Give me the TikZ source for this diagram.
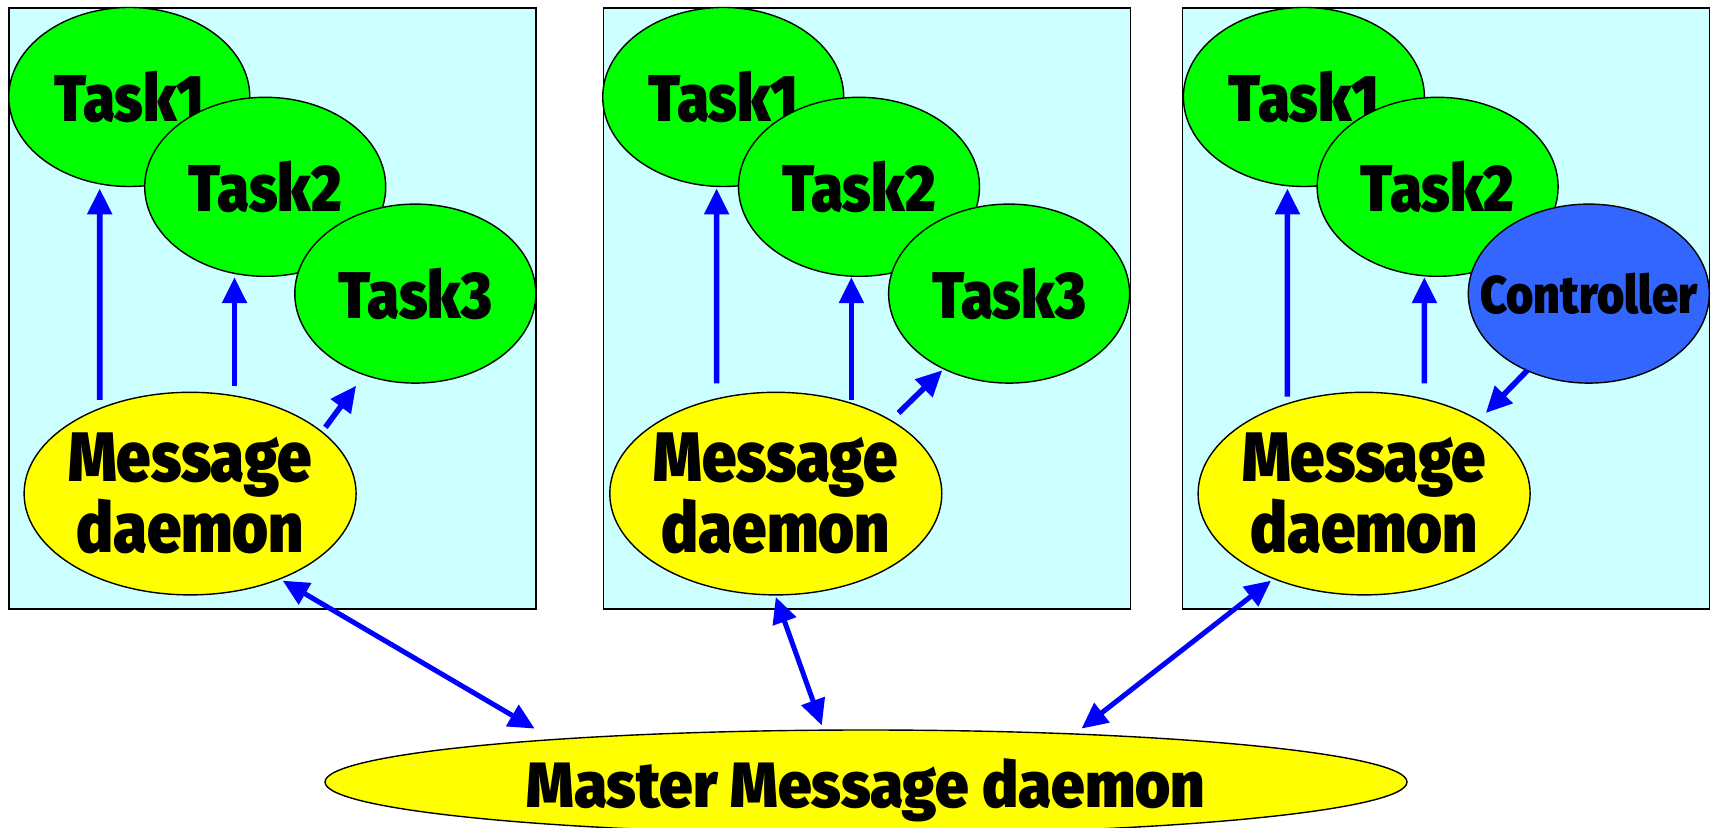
\documentclass[tikz,border=0pt]{standalone}
\usepackage{fontspec}
\setmainfont{Fira Sans}[BoldFont={Fira Sans Black}]
\newfontfamily\narrowfont{Fira Sans Black}[FakeStretch=0.88]
\newfontfamily\masterfont{Fira Sans Black}[FakeStretch=0.94]
\usetikzlibrary{arrows.meta,calc,shapes.geometric}
\definecolor{cyanbg}{HTML}{CCFFFF}
\definecolor{taskgreen}{HTML}{00FF00}
\definecolor{mdyellow}{HTML}{FFFF00}
\definecolor{ctrlblue}{HTML}{3366FF}
\definecolor{arrowblue}{HTML}{0000FF}
\begin{document}
\begin{tikzpicture}[x=0.5pt,y=-0.5pt,
  panel/.style={rectangle,draw=black,line width=0.6pt,fill=cyanbg,minimum width=263.5pt,minimum height=300.5pt,inner sep=0pt},
  blob/.style={ellipse,draw=black,line width=0.7pt,inner sep=-12pt},
  task/.style={blob,fill=taskgreen,minimum width=120.5pt,minimum height=89.5pt,font=\fontsize{33}{36}\narrowfont},
  ctrl/.style={blob,fill=ctrlblue,minimum width=120.5pt,minimum height=89.5pt,font=\fontsize{26.5}{29}\narrowfont},
  md/.style={blob,fill=mdyellow,minimum width=166pt,minimum height=101.3pt,align=center,font=\fontsize{35}{34.5}\narrowfont},
  master/.style={blob,fill=mdyellow,minimum width=541pt,minimum height=52pt,text height=32pt,text depth=7pt,font=\fontsize{32}{34}\masterfont},
  arr/.style={draw=arrowblue,line width=2.8pt,-{Triangle[length=13pt,width=12pt]}},
  dbl/.style={draw=arrowblue,line width=2.5pt,{Triangle[length=13pt,width=12pt]}-{Triangle[length=13pt,width=12pt]}}]
\useasboundingbox (0,0) rectangle (1718,828);
\clip (0,0) rectangle (1718,828);
% panels
\node[panel] (p1) at (272.5,308.5) {};
\node[panel] (p2) at (867,308.5) {};
\node[panel] (p3) at (1446,308.5) {};
% panel 1
\node[task] (a1) at (129.3,97) {Task1};
\node[task] (a2) at (265.2,186.8) {Task2};
\node[task] (a3) at (415.3,293.6) {Task3};
\node[md] (m1) at (190.1,493.6) {Message\\daemon};
% panel 2
\node[task] (b1) at (723.2,97) {Task1};
\node[task] (b2) at (859,186.8) {Task2};
\node[task] (b3) at (1009.1,293.6) {Task3};
\node[md] (m2) at (775.8,493.6) {Message\\daemon};
% panel 3
\node[task] (c1) at (1303.9,97) {Task1};
\node[task] (c2) at (1437.6,186.8) {Task2};
\node[ctrl] (cc) at (1588.8,293.6) {Controller};
\node[md] (m3) at (1364.1,493.6) {Message\\daemon};
% master
\node[master] (mm) at (866,782) {Master Message daemon};
% arrows panel 1
\draw[arr] ($(m1)+(-90.4,-93.6)$) -- ($(a1)+(-29.6,91.5)$);
\draw[arr] ($(m1)+(44.4,-107.9)$) -- ($(a2)+(-30.7,90.4)$);
\draw[arr] ($(m1)+(135.3,-66.3)$) -- ($(a3)+(-59.2,92.1)$);
% arrows panel 2
\draw[arr] ($(m2)+(-59.2,-110.1)$) -- ($(b1)+(-6.6,91.5)$);
\draw[arr] ($(m2)+(75.6,-93.6)$) -- ($(b2)+(-7.6,90.4)$);
\draw[arr] ($(m2)+(122.7,-80.6)$) -- ($(b3)+(-66.8,76.7)$);
% arrows panel 3
\draw[arr] ($(m3)+(-76.7,-97)$) -- ($(c1)+(-16.5,91.5)$);
\draw[arr] ($(m3)+(60.3,-110.1)$) -- ($(c2)+(-13.2,90.4)$);
\draw[arr] ($(cc)+(-61.4,76.7)$) -- ($(m3)+(121.7,-80.6)$);
% to master
\draw[dbl] ($(m1)+(92.6,87.1)$) -- ($(mm)+(-331.3,-53.4)$);
\draw[dbl] ($(m2)+(0,103.4)$) -- ($(mm)+(-44.2,-56.6)$);
\draw[dbl] ($(m3)+(-93.1,87.1)$) -- ($(mm)+(215.5,-53.4)$);
\end{tikzpicture}
\end{document}
